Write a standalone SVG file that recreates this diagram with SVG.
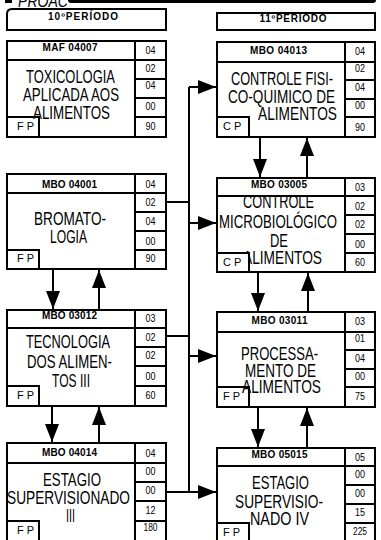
<svg xmlns="http://www.w3.org/2000/svg" width="381" height="540" viewBox="0 0 381 540">
<style>
  .box{fill:#fff;stroke:#000;stroke-width:2}
  .ln{fill:none;stroke:#000;stroke-width:2}
  .t{font-family:"Liberation Sans",Arial,sans-serif;font-size:19px;fill:#000;text-anchor:middle}
  .code{font-family:"Liberation Sans",Arial,sans-serif;font-size:10px;font-weight:bold;fill:#000;text-anchor:middle}
  .num{font-family:"Liberation Sans",Arial,sans-serif;font-size:11px;fill:#000;text-anchor:middle}
  .tag{font-family:"Liberation Sans",Arial,sans-serif;font-size:11px;fill:#000;letter-spacing:3px}
  .hdr{font-family:"Liberation Sans",Arial,sans-serif;font-size:10px;font-weight:bold;fill:#000;text-anchor:middle}
  .conn{fill:none;stroke:#000;stroke-width:2}
</style>
<defs>
  <marker id="ah" viewBox="0 0 18 14" refX="18" refY="7" markerWidth="18" markerHeight="14" markerUnits="userSpaceOnUse" orient="auto">
    <path d="M0,0L18,7L0,14Z" fill="#000"/>
  </marker>
</defs>

<g id="title">
  <rect x="68" y="-3" width="308" height="6" rx="3" fill="#000"/>
  <rect x="5" y="0" width="7" height="3" fill="#000"/>
  <text x="18" y="7" font-family="'Liberation Sans',Arial,sans-serif" font-size="16" font-style="italic" textLength="50" lengthAdjust="spacingAndGlyphs">PROAC</text>
</g>

<g id="hdr10">
  <path class="box" d="M7,30V14Q7,9 12,9H166V30Z"/>
  <text class="hdr" x="83" y="20" textLength="70">10ºPERÍODO</text>
</g>
<g id="hdr11">
  <rect class="box" x="217" y="13" width="158" height="17"/>
  <text class="hdr" x="293" y="22" textLength="67">11ºPERÍODO</text>
</g>

<g id="connectors">
  <path class="conn" d="M166,202H189M166,336H189M166,492H189M189,87V492"/>
  <path class="conn" d="M189,87H216" marker-end="url(#ah)"/>
  <path class="conn" d="M189,223H216" marker-end="url(#ah)"/>
  <path class="conn" d="M189,356H216" marker-end="url(#ah)"/>
  <path class="conn" d="M189,492H216" marker-end="url(#ah)"/>
  <path class="conn" d="M53,269V309" marker-end="url(#ah)"/>
  <path class="conn" d="M99,310V270" marker-end="url(#ah)"/>
  <path class="conn" d="M52,406V442" marker-end="url(#ah)"/>
  <path class="conn" d="M99,443V407" marker-end="url(#ah)"/>
  <path class="conn" d="M260,137V177" marker-end="url(#ah)"/>
  <path class="conn" d="M307,178V138" marker-end="url(#ah)"/>
  <path class="conn" d="M258,272V311" marker-end="url(#ah)"/>
  <path class="conn" d="M308,312V273" marker-end="url(#ah)"/>
  <path class="conn" d="M258,407V447" marker-end="url(#ah)"/>
  <path class="conn" d="M307,448V408" marker-end="url(#ah)"/>
</g>

<g id="maf04007">
  <rect class="box" x="7" y="41" width="159" height="96"/>
  <path class="ln" d="M7,60H166M135,41V137M135,79H166M135,98H166M135,117H166"/>
  <text class="code" x="70" y="51" textLength="55">MAF 04007</text>
  <text class="t" x="70.5" y="83" textLength="89" lengthAdjust="spacingAndGlyphs">TOXICOLOGIA</text>
  <text class="t" x="71" y="101" textLength="96" lengthAdjust="spacingAndGlyphs">APLICADA AOS</text>
  <rect class="box" x="7" y="117" width="32" height="20"/>
  <text class="t" x="71.5" y="119" textLength="77" lengthAdjust="spacingAndGlyphs">ALIMENTOS</text>
  <text class="tag" x="17" y="130">FP</text>
  <text class="num" x="150.5" y="54" textLength="10" lengthAdjust="spacingAndGlyphs">04</text>
  <text class="num" x="150.5" y="72" textLength="10" lengthAdjust="spacingAndGlyphs">02</text>
  <text class="num" x="150.5" y="89" textLength="10" lengthAdjust="spacingAndGlyphs">04</text>
  <text class="num" x="150.5" y="110" textLength="10" lengthAdjust="spacingAndGlyphs">00</text>
  <text class="num" x="150.5" y="130" textLength="10" lengthAdjust="spacingAndGlyphs">90</text>
</g>

<g id="mbo04013">
  <rect class="box" x="217" y="42" width="158" height="95"/>
  <path class="ln" d="M217,62H375M345,42V137M345,80H375M345,99H375M345,117H375"/>
  <text class="code" x="278.5" y="54" textLength="57">MBO 04013</text>
  <text class="t" x="282" y="85" textLength="102" lengthAdjust="spacingAndGlyphs">CONTROLE FISI-</text>
  <text class="t" x="281.5" y="103" textLength="107" lengthAdjust="spacingAndGlyphs">CO-QUIMICO DE</text>
  <text class="t" x="297.5" y="120" textLength="79" lengthAdjust="spacingAndGlyphs">ALIMENTOS</text>
  <rect class="box" x="217" y="117" width="32" height="20"/>
  <text class="tag" x="223" y="130">CP</text>
  <text class="num" x="360" y="55" textLength="10" lengthAdjust="spacingAndGlyphs">04</text>
  <text class="num" x="360" y="72" textLength="10" lengthAdjust="spacingAndGlyphs">02</text>
  <text class="num" x="360" y="91" textLength="10" lengthAdjust="spacingAndGlyphs">04</text>
  <text class="num" x="360" y="109" textLength="10" lengthAdjust="spacingAndGlyphs">00</text>
  <text class="num" x="360" y="131" textLength="10" lengthAdjust="spacingAndGlyphs">90</text>
</g>

<g id="mbo04001">
  <rect class="box" x="7" y="174" width="159" height="95"/>
  <path class="ln" d="M7,193H166M135,174V269M135,212H166M135,231H166M135,250H166"/>
  <text class="code" x="69.5" y="188" textLength="55">MBO 04001</text>
  <text class="t" x="70" y="225" textLength="72" lengthAdjust="spacingAndGlyphs">BROMATO-</text>
  <text class="t" x="68.5" y="243" textLength="37" lengthAdjust="spacingAndGlyphs">LOGIA</text>
  <rect class="box" x="7" y="250" width="32" height="19"/>
  <text class="tag" x="17" y="262">FP</text>
  <text class="num" x="150.5" y="188" textLength="10" lengthAdjust="spacingAndGlyphs">04</text>
  <text class="num" x="150.5" y="206" textLength="10" lengthAdjust="spacingAndGlyphs">02</text>
  <text class="num" x="150.5" y="225" textLength="10" lengthAdjust="spacingAndGlyphs">04</text>
  <text class="num" x="150.5" y="245" textLength="10" lengthAdjust="spacingAndGlyphs">00</text>
  <text class="num" x="150.5" y="262" textLength="10" lengthAdjust="spacingAndGlyphs">90</text>
</g>

<g id="mbo03005">
  <rect class="box" x="217" y="178" width="158" height="94"/>
  <path class="ln" d="M217,196H375M345,178V272M345,215H375M345,234H375M345,253H375"/>
  <text class="code" x="279" y="188" textLength="56">MBO 03005</text>
  <text class="t" x="278.5" y="208" textLength="71" lengthAdjust="spacingAndGlyphs">CONTROLE</text>
  <text class="t" x="278" y="228" textLength="118" lengthAdjust="spacingAndGlyphs">MICROBIOLÓGICO</text>
  <text class="t" x="279" y="247" textLength="18" lengthAdjust="spacingAndGlyphs">DE</text>
  <text class="t" x="282.5" y="264" textLength="79" lengthAdjust="spacingAndGlyphs">ALIMENTOS</text>
  <rect class="box" x="217" y="253" width="32" height="19"/>
  <text class="tag" x="223" y="266">CP</text>
  <text class="num" x="360" y="191" textLength="10" lengthAdjust="spacingAndGlyphs">03</text>
  <text class="num" x="360" y="210" textLength="10" lengthAdjust="spacingAndGlyphs">02</text>
  <text class="num" x="360" y="228" textLength="10" lengthAdjust="spacingAndGlyphs">02</text>
  <text class="num" x="360" y="248" textLength="10" lengthAdjust="spacingAndGlyphs">00</text>
  <text class="num" x="360" y="266" textLength="10" lengthAdjust="spacingAndGlyphs">60</text>
</g>

<g id="mbo03012">
  <rect class="box" x="7" y="310" width="159" height="96"/>
  <path class="ln" d="M7,328H166M135,310V406M135,347H166M135,366H166M135,386H166"/>
  <text class="code" x="69.5" y="319" textLength="55">MBO 03012</text>
  <text class="t" x="68" y="348" textLength="84" lengthAdjust="spacingAndGlyphs">TECNOLOGIA</text>
  <text class="t" x="69.5" y="368" textLength="85" lengthAdjust="spacingAndGlyphs">DOS ALIMEN-</text>
  <text class="t" x="71" y="387" textLength="38" lengthAdjust="spacingAndGlyphs">TOS III</text>
  <rect class="box" x="7" y="386" width="32" height="20"/>
  <text class="tag" x="17" y="399">FP</text>
  <text class="num" x="150.5" y="322" textLength="10" lengthAdjust="spacingAndGlyphs">03</text>
  <text class="num" x="150.5" y="341" textLength="10" lengthAdjust="spacingAndGlyphs">02</text>
  <text class="num" x="150.5" y="359" textLength="10" lengthAdjust="spacingAndGlyphs">02</text>
  <text class="num" x="150.5" y="380" textLength="10" lengthAdjust="spacingAndGlyphs">00</text>
  <text class="num" x="150.5" y="399" textLength="10" lengthAdjust="spacingAndGlyphs">60</text>
</g>

<g id="mbo03011">
  <rect class="box" x="217" y="312" width="158" height="95"/>
  <path class="ln" d="M217,332H375M345,312V407M345,350H375M345,369H375M345,387H375"/>
  <text class="code" x="279.5" y="324" textLength="56">MBO 03011</text>
  <text class="t" x="279.5" y="360" textLength="77" lengthAdjust="spacingAndGlyphs">PROCESSA-</text>
  <text class="t" x="280.5" y="377" textLength="71" lengthAdjust="spacingAndGlyphs">MENTO DE</text>
  <rect class="box" x="217" y="387" width="32" height="20"/>
  <text class="t" x="281.5" y="393" textLength="79" lengthAdjust="spacingAndGlyphs">ALIMENTOS</text>
  <text class="tag" x="223" y="400">FP</text>
  <text class="num" x="360" y="325" textLength="10" lengthAdjust="spacingAndGlyphs">03</text>
  <text class="num" x="360" y="342" textLength="10" lengthAdjust="spacingAndGlyphs">01</text>
  <text class="num" x="360" y="362" textLength="10" lengthAdjust="spacingAndGlyphs">04</text>
  <text class="num" x="360" y="380" textLength="10" lengthAdjust="spacingAndGlyphs">00</text>
  <text class="num" x="360" y="400" textLength="10" lengthAdjust="spacingAndGlyphs">75</text>
</g>

<g id="mbo04014">
  <rect class="box" x="7" y="443" width="159" height="98"/>
  <path class="ln" d="M7,463H166M135,443V541M135,482H166M135,501H166M135,521H166"/>
  <text class="code" x="69.5" y="456" textLength="55">MBO 04014</text>
  <text class="t" x="72" y="486" textLength="58" lengthAdjust="spacingAndGlyphs">ESTAGIO</text>
  <text class="t" x="68.5" y="504" textLength="123" lengthAdjust="spacingAndGlyphs">SUPERVISIONADO</text>
  <text class="t" x="70.5" y="522" textLength="9" lengthAdjust="spacingAndGlyphs">III</text>
  <rect class="box" x="7" y="521" width="32" height="20"/>
  <text class="tag" x="17" y="534">FP</text>
  <text class="num" x="150.5" y="457" textLength="10" lengthAdjust="spacingAndGlyphs">04</text>
  <text class="num" x="150.5" y="475" textLength="10" lengthAdjust="spacingAndGlyphs">00</text>
  <text class="num" x="150.5" y="494" textLength="10" lengthAdjust="spacingAndGlyphs">00</text>
  <text class="num" x="150.5" y="514" textLength="10" lengthAdjust="spacingAndGlyphs">12</text>
  <text class="num" x="150.5" y="531" textLength="14" lengthAdjust="spacingAndGlyphs">180</text>
</g>

<g id="mbo05015">
  <rect class="box" x="217" y="448" width="158" height="95"/>
  <path class="ln" d="M217,466H375M345,448V543M345,485H375M345,504H375M345,523H375"/>
  <text class="code" x="279.5" y="458" textLength="56">MBO 05015</text>
  <text class="t" x="280.5" y="489" textLength="57" lengthAdjust="spacingAndGlyphs">ESTAGIO</text>
  <text class="t" x="279" y="508" textLength="88" lengthAdjust="spacingAndGlyphs">SUPERVISIO-</text>
  <text class="t" x="279.5" y="525" textLength="59" lengthAdjust="spacingAndGlyphs">NADO IV</text>
  <rect class="box" x="217" y="523" width="32" height="20"/>
  <text class="tag" x="223" y="536">FP</text>
  <text class="num" x="360" y="461" textLength="10" lengthAdjust="spacingAndGlyphs">05</text>
  <text class="num" x="360" y="478" textLength="10" lengthAdjust="spacingAndGlyphs">00</text>
  <text class="num" x="360" y="497" textLength="10" lengthAdjust="spacingAndGlyphs">00</text>
  <text class="num" x="360" y="516" textLength="10" lengthAdjust="spacingAndGlyphs">15</text>
  <text class="num" x="360" y="535" textLength="14" lengthAdjust="spacingAndGlyphs">225</text>
</g>
</svg>
